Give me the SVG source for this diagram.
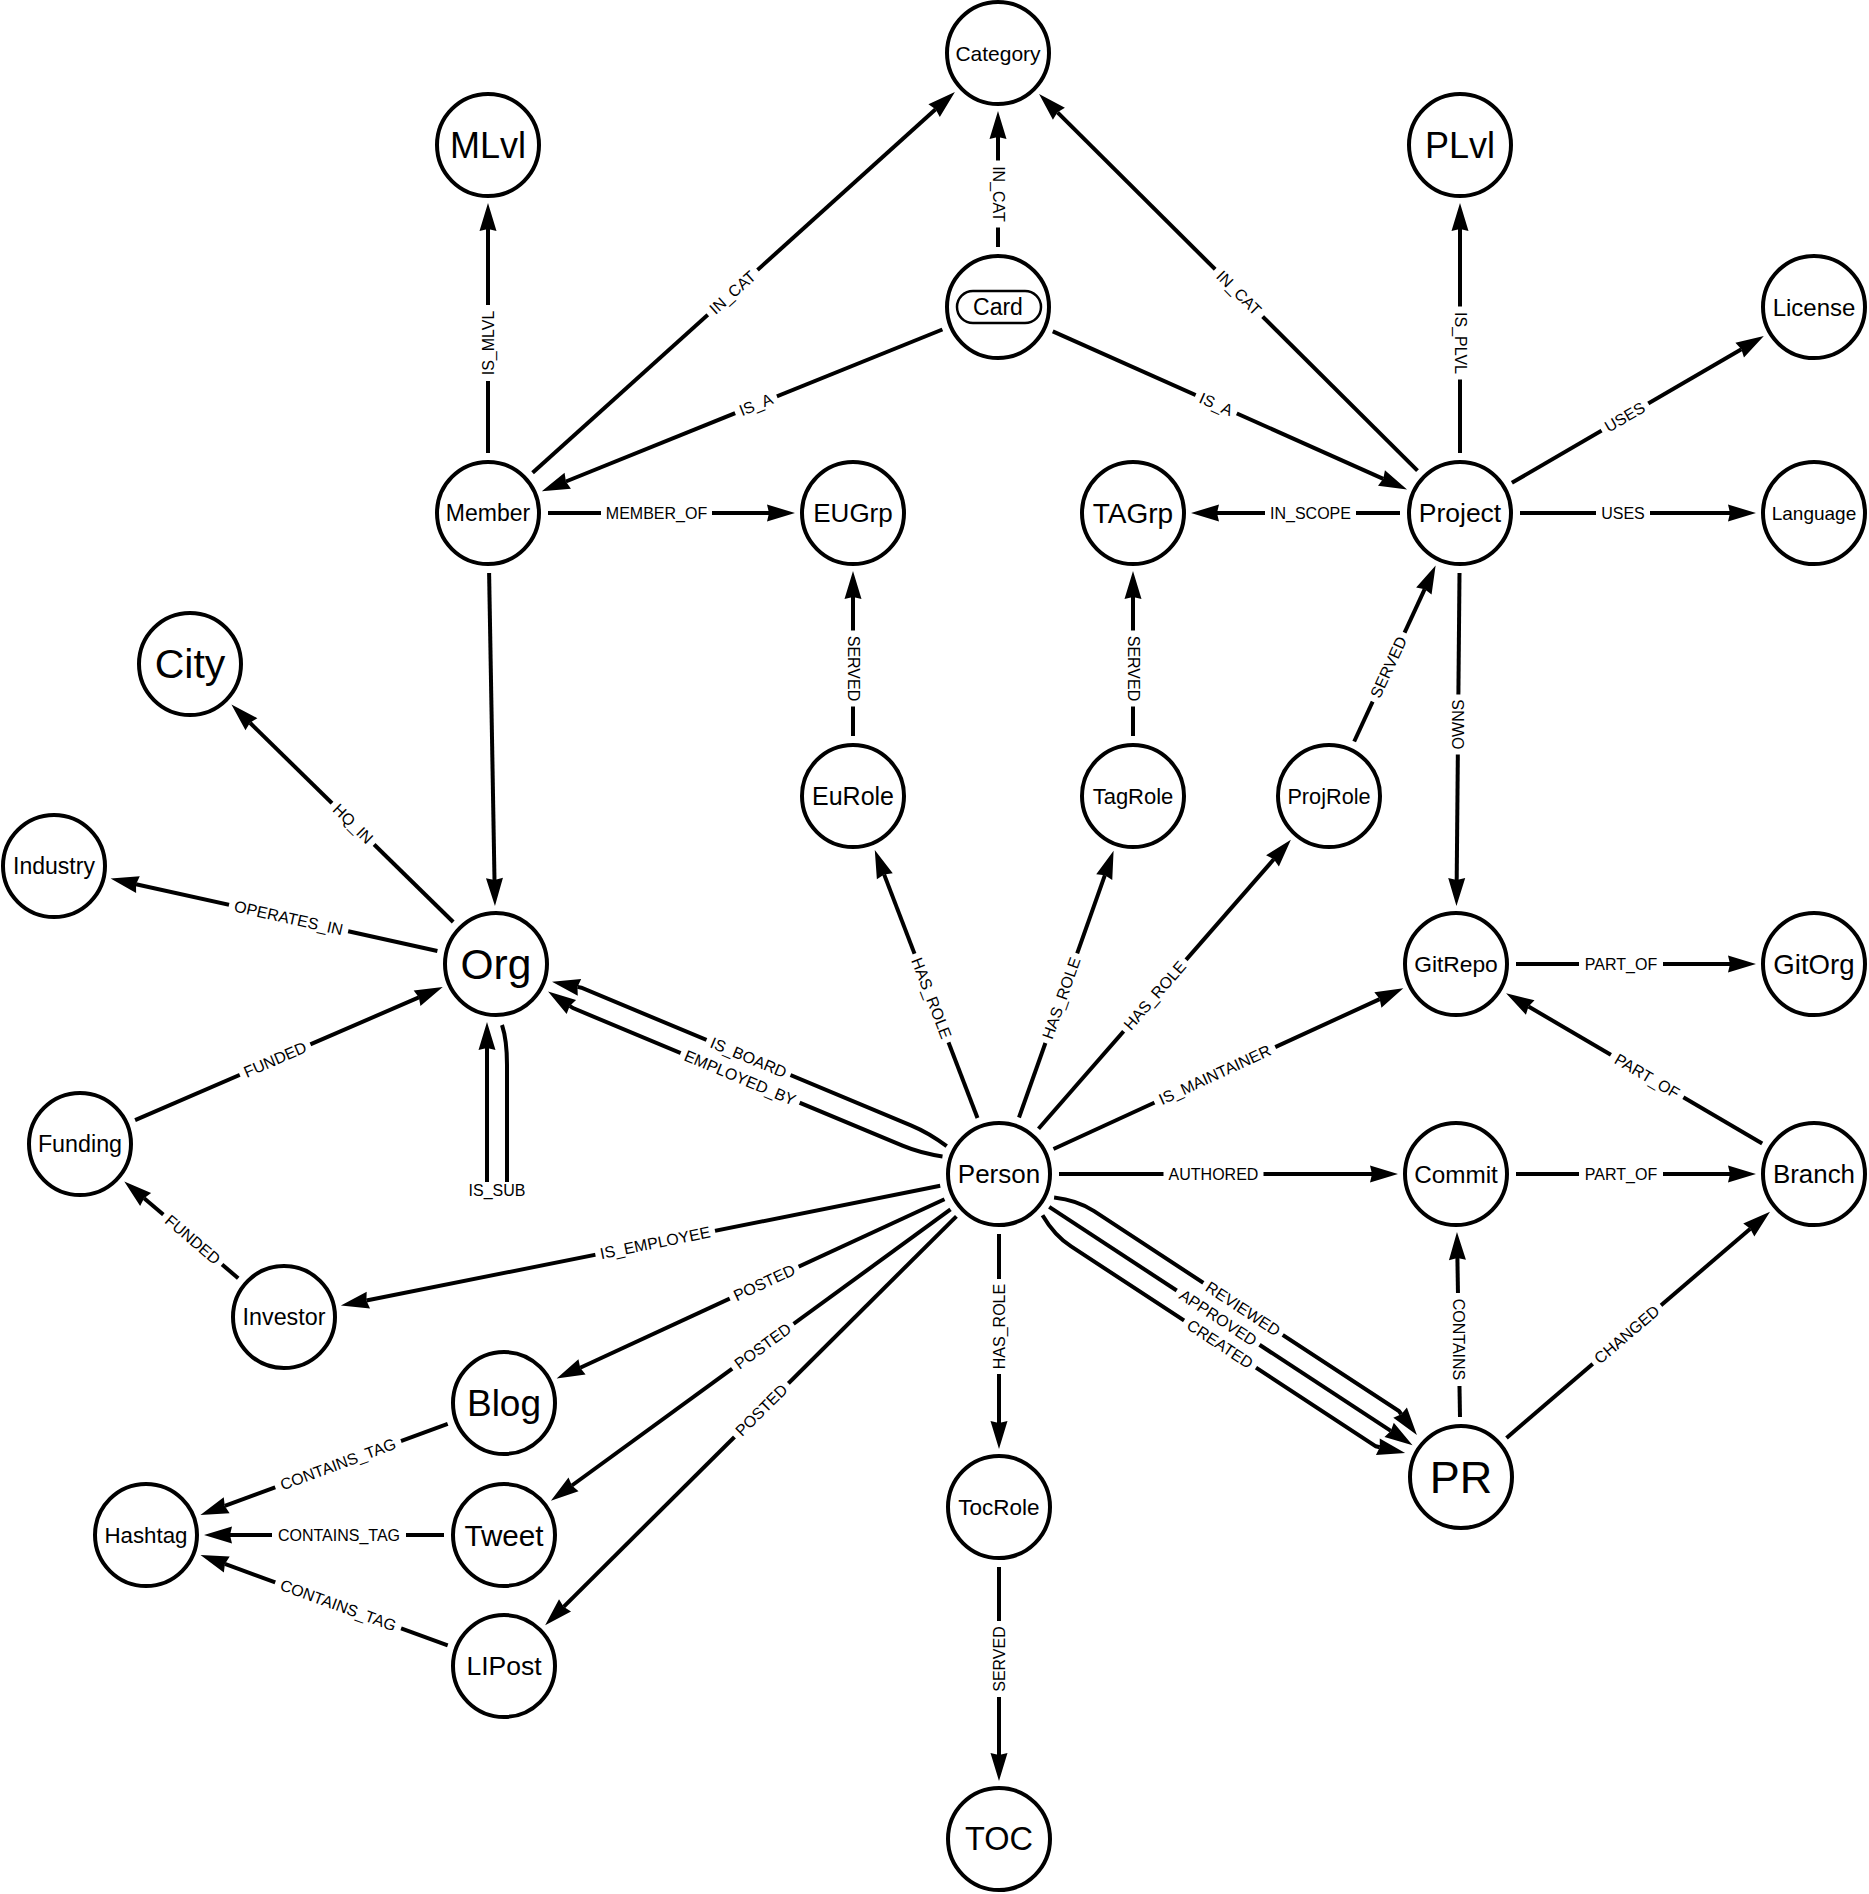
<svg xmlns="http://www.w3.org/2000/svg" width="1869" height="1894" viewBox="0 0 1869 1894">
<style>
text{font-family:'Liberation Sans',Arial,Helvetica,sans-serif;fill:#000;text-anchor:middle;dominant-baseline:central}
.node circle{fill:#fff;stroke:#000;stroke-width:4}
.e{fill:none;stroke:#000;stroke-width:4;marker-end:url(#arr)}
.lb rect{fill:#fff}
.lb text{font-size:16px}
</style>
<defs>
<marker id="arr" markerUnits="userSpaceOnUse" markerWidth="30" markerHeight="20" viewBox="0 -10 30 20" refX="2" refY="0" orient="auto" overflow="visible">
<path d="M0,-8.5 L28,0 L0,8.5 L2,0 Z" fill="#000"/>
</marker>
</defs>
<rect width="1869" height="1894" fill="#fff"/>
<g id="connectors">
<path class="e" d="M998,247 L998,137"/>
<path class="e" d="M532.6,472.8 L935.6,109.3"/>
<path class="e" d="M1417.5,470.7 L1057.5,112.3"/>
<path class="e" d="M488,453 L488,229"/>
<path class="e" d="M942.4,329.5 L565.9,481.5"/>
<path class="e" d="M1052.8,331.4 L1383.3,478.8"/>
<path class="e" d="M1460,453 L1460,229"/>
<path class="e" d="M1511.9,482.8 L1741.4,349.2"/>
<path class="e" d="M1520,513 L1730,513"/>
<path class="e" d="M548,513 L769,513"/>
<path class="e" d="M1400,513 L1217,513"/>
<path class="e" d="M853,736 L853,597"/>
<path class="e" d="M1133,736 L1133,597"/>
<path class="e" d="M1354.2,741.5 L1424.7,589.2"/>
<path class="e" d="M1459.5,573 L1456.7,880"/>
<path class="e" d="M489.1,573 L494.5,880"/>
<path class="e" d="M453.2,922 L250,722.8"/>
<path class="e" d="M437.4,951 L136,884.2"/>
<path class="e" d="M135.1,1120.2 L418.9,997.4"/>
<path class="e" d="M238.2,1278.2 L144.1,1198.3"/>
<path class="e" d="M502,1025 Q507,1040 507,1065 L507,1182 Q507,1192 497,1192 Q487,1192 487,1182 L487,1048"/>
<path class="e" d="M946.7,1146.2 Q929.4,1133 910.9,1125.3 L581.4,987.7 L577.5,986.9"/>
<path class="e" d="M942.5,1156.4 Q921,1153.4 902.5,1145.7 L573,1008.1 L569.7,1005.9"/>
<path class="e" d="M977.5,1118 L884.1,874.4"/>
<path class="e" d="M1019,1117.5 L1104.9,875.2"/>
<path class="e" d="M1038.5,1128.8 L1273.8,859.3"/>
<path class="e" d="M1053.5,1149 L1379.7,999.1"/>
<path class="e" d="M1059,1174 L1372,1174"/>
<path class="e" d="M1516,964 L1730,964"/>
<path class="e" d="M1516,1174 L1730,1174"/>
<path class="e" d="M1762.2,1143.6 L1528.5,1006.5"/>
<path class="e" d="M1460,1417 L1457.4,1258"/>
<path class="e" d="M1506.5,1437.9 L1750.3,1228.7"/>
<path class="e" d="M1054.1,1197.6 Q1077.4,1200.3 1094.1,1211.2 L1398.9,1411.1 L1401.3,1414.3"/>
<path class="e" d="M1049.2,1206.9 L1390.8,1430.9"/>
<path class="e" d="M1042.5,1215.2 Q1054.4,1235.5 1071.1,1246.4 L1375.9,1446.3 L1379.8,1447.2"/>
<path class="e" d="M940.2,1185.8 L366.4,1300.5"/>
<path class="e" d="M944.5,1199.2 L580.2,1367.7"/>
<path class="e" d="M950.5,1209.4 L571.9,1485.5"/>
<path class="e" d="M956.4,1216.3 L563.6,1606.8"/>
<path class="e" d="M447.7,1423.8 L224.8,1505.9"/>
<path class="e" d="M444,1535 L230,1535"/>
<path class="e" d="M447.7,1645.4 L224.9,1563.9"/>
<path class="e" d="M999,1234 L999,1423"/>
<path class="e" d="M999,1567 L999,1755"/>
<g class="lb" transform="translate(998,194) rotate(90)"><rect x="-33.5" y="-8" width="67" height="16"/><text>IN_CAT</text></g>
<g class="lb" transform="translate(732.6,292.4) rotate(-42)"><rect x="-33.5" y="-8" width="67" height="16"/><text>IN_CAT</text></g>
<g class="lb" transform="translate(1238.9,292.9) rotate(44.9)"><rect x="-33.5" y="-8" width="67" height="16"/><text>IN_CAT</text></g>
<g class="lb" transform="translate(488,343) rotate(-90)"><rect x="-38" y="-8" width="76" height="16"/><text>IS_MLVL</text></g>
<g class="lb" transform="translate(756,404.7) rotate(-22)"><rect x="-22.5" y="-8" width="45" height="16"/><text>IS_A</text></g>
<g class="lb" transform="translate(1216.2,404.3) rotate(24)"><rect x="-22.5" y="-8" width="45" height="16"/><text>IS_A</text></g>
<g class="lb" transform="translate(1460,343) rotate(90)"><rect x="-36.5" y="-8" width="73" height="16"/><text>IS_PLVL</text></g>
<g class="lb" transform="translate(1624.9,417) rotate(-30.2)"><rect x="-27" y="-8" width="54" height="16"/><text>USES</text></g>
<g class="lb" transform="translate(1623,513)"><rect x="-27" y="-8" width="54" height="16"/><text>USES</text></g>
<g class="lb" transform="translate(656.5,513)"><rect x="-55.5" y="-8" width="111" height="16"/><text>MEMBER_OF</text></g>
<g class="lb" transform="translate(1310.5,513)"><rect x="-45.5" y="-8" width="91" height="16"/><text>IN_SCOPE</text></g>
<g class="lb" transform="translate(853,668.5) rotate(90)"><rect x="-38" y="-8" width="76" height="16"/><text>SERVED</text></g>
<g class="lb" transform="translate(1133,668.5) rotate(90)"><rect x="-38" y="-8" width="76" height="16"/><text>SERVED</text></g>
<g class="lb" transform="translate(1388.6,667.2) rotate(-65.2)"><rect x="-38" y="-8" width="76" height="16"/><text>SERVED</text></g>
<g class="lb" transform="translate(1458.1,724.5) rotate(-90)"><rect x="-30" y="-8" width="60" height="16"/><text>OWNS</text></g>
<g class="lb" transform="translate(353,823.8) rotate(44.4)"><rect x="-29.5" y="-8" width="59" height="16"/><text>HQ_IN</text></g>
<g class="lb" transform="translate(288.6,918) rotate(12.5)"><rect x="-61" y="-8" width="122" height="16"/><text>OPERATES_IN</text></g>
<g class="lb" transform="translate(275.1,1059.6) rotate(-23.4)"><rect x="-38.5" y="-8" width="77" height="16"/><text>FUNDED</text></g>
<g class="lb" transform="translate(192.7,1239.6) rotate(40.3)"><rect x="-38.5" y="-8" width="77" height="16"/><text>FUNDED</text></g>
<g class="lb" transform="translate(497,1190)"><rect x="-33.5" y="-8" width="67" height="16"/><text>IS_SUB</text></g>
<g class="lb" transform="translate(748.5,1057.5) rotate(22.7)"><rect x="-45.5" y="-8" width="91" height="16"/><text>IS_BOARD</text></g>
<g class="lb" transform="translate(740.1,1077.9) rotate(22.7)"><rect x="-64.5" y="-8" width="129" height="16"/><text>EMPLOYED_BY</text></g>
<g class="lb" transform="translate(931.5,998.1) rotate(69)"><rect x="-47.5" y="-8" width="95" height="16"/><text>HAS_ROLE</text></g>
<g class="lb" transform="translate(1061.3,998.2) rotate(-70.5)"><rect x="-47.5" y="-8" width="95" height="16"/><text>HAS_ROLE</text></g>
<g class="lb" transform="translate(1154.8,995.5) rotate(-48.9)"><rect x="-47.5" y="-8" width="95" height="16"/><text>HAS_ROLE</text></g>
<g class="lb" transform="translate(1214.8,1074.8) rotate(-24.7)"><rect x="-66.5" y="-8" width="133" height="16"/><text>IS_MAINTAINER</text></g>
<g class="lb" transform="translate(1213.5,1174)"><rect x="-50" y="-8" width="100" height="16"/><text>AUTHORED</text></g>
<g class="lb" transform="translate(1621,964)"><rect x="-42" y="-8" width="84" height="16"/><text>PART_OF</text></g>
<g class="lb" transform="translate(1621,1174)"><rect x="-42" y="-8" width="84" height="16"/><text>PART_OF</text></g>
<g class="lb" transform="translate(1647.1,1076.1) rotate(30.4)"><rect x="-42" y="-8" width="84" height="16"/><text>PART_OF</text></g>
<g class="lb" transform="translate(1458.7,1339.5) rotate(90)"><rect x="-46.5" y="-8" width="93" height="16"/><text>CONTAINS</text></g>
<g class="lb" transform="translate(1626.9,1334.6) rotate(-40.6)"><rect x="-45" y="-8" width="90" height="16"/><text>CHANGED</text></g>
<g class="lb" transform="translate(1243,1308.9) rotate(33.3)"><rect x="-47.5" y="-8" width="95" height="16"/><text>REVIEWED</text></g>
<g class="lb" transform="translate(1218.1,1317.7) rotate(33.3)"><rect x="-49.5" y="-8" width="99" height="16"/><text>APPROVED</text></g>
<g class="lb" transform="translate(1220,1344.1) rotate(33.3)"><rect x="-43" y="-8" width="86" height="16"/><text>CREATED</text></g>
<g class="lb" transform="translate(655.2,1242.8) rotate(-11.3)"><rect x="-61" y="-8" width="122" height="16"/><text>IS_EMPLOYEE</text></g>
<g class="lb" transform="translate(764.2,1282.6) rotate(-24.8)"><rect x="-38" y="-8" width="76" height="16"/><text>POSTED</text></g>
<g class="lb" transform="translate(762.8,1346.2) rotate(-36.1)"><rect x="-38" y="-8" width="76" height="16"/><text>POSTED</text></g>
<g class="lb" transform="translate(761.4,1410.2) rotate(-44.8)"><rect x="-38" y="-8" width="76" height="16"/><text>POSTED</text></g>
<g class="lb" transform="translate(338.1,1464.2) rotate(-20.2)"><rect x="-67" y="-8" width="134" height="16"/><text>CONTAINS_TAG</text></g>
<g class="lb" transform="translate(339,1535)"><rect x="-67" y="-8" width="134" height="16"/><text>CONTAINS_TAG</text></g>
<g class="lb" transform="translate(338.2,1605.3) rotate(20.1)"><rect x="-67" y="-8" width="134" height="16"/><text>CONTAINS_TAG</text></g>
<g class="lb" transform="translate(999,1326.5) rotate(-90)"><rect x="-47.5" y="-8" width="95" height="16"/><text>HAS_ROLE</text></g>
<g class="lb" transform="translate(999,1659) rotate(-90)"><rect x="-38" y="-8" width="76" height="16"/><text>SERVED</text></g>
</g>
<g id="n-Category" class="node"><circle cx="998" cy="53" r="51"/><text x="998" y="53" font-size="21">Category</text></g>
<g id="n-MLvl" class="node"><circle cx="488" cy="145" r="51"/><text x="488" y="145" font-size="36">MLvl</text></g>
<g id="n-PLvl" class="node"><circle cx="1460" cy="145" r="51"/><text x="1460" y="145" font-size="36">PLvl</text></g>
<g id="n-Card" class="node"><circle cx="998" cy="307" r="51"/><rect x="957" y="291" width="84" height="32" rx="16" fill="#fff" stroke="#000" stroke-width="2.5"/><text x="998" y="307" font-size="23">Card</text></g>
<g id="n-License" class="node"><circle cx="1814" cy="307" r="51"/><text x="1814" y="307" font-size="24">License</text></g>
<g id="n-Member" class="node"><circle cx="488" cy="513" r="51"/><text x="488" y="513" font-size="23">Member</text></g>
<g id="n-EUGrp" class="node"><circle cx="853" cy="513" r="51"/><text x="853" y="513" font-size="26">EUGrp</text></g>
<g id="n-TAGrp" class="node"><circle cx="1133" cy="513" r="51"/><text x="1133" y="513" font-size="28">TAGrp</text></g>
<g id="n-Project" class="node"><circle cx="1460" cy="513" r="51"/><text x="1460" y="513" font-size="26.5">Project</text></g>
<g id="n-Language" class="node"><circle cx="1814" cy="513" r="51"/><text x="1814" y="513" font-size="19">Language</text></g>
<g id="n-City" class="node"><circle cx="190" cy="664" r="51"/><text x="190" y="664" font-size="41">City</text></g>
<g id="n-EuRole" class="node"><circle cx="853" cy="796" r="51"/><text x="853" y="796" font-size="25">EuRole</text></g>
<g id="n-TagRole" class="node"><circle cx="1133" cy="796" r="51"/><text x="1133" y="796" font-size="22">TagRole</text></g>
<g id="n-ProjRole" class="node"><circle cx="1329" cy="796" r="51"/><text x="1329" y="796" font-size="21.7">ProjRole</text></g>
<g id="n-Industry" class="node"><circle cx="54" cy="866" r="51"/><text x="54" y="866" font-size="23">Industry</text></g>
<g id="n-Org" class="node"><circle cx="496" cy="964" r="51"/><text x="496" y="964" font-size="42.5">Org</text></g>
<g id="n-GitRepo" class="node"><circle cx="1456" cy="964" r="51"/><text x="1456" y="964" font-size="22.8">GitRepo</text></g>
<g id="n-GitOrg" class="node"><circle cx="1814" cy="964" r="51"/><text x="1814" y="964" font-size="27.6">GitOrg</text></g>
<g id="n-Funding" class="node"><circle cx="80" cy="1144" r="51"/><text x="80" y="1144" font-size="23.3">Funding</text></g>
<g id="n-Person" class="node"><circle cx="999" cy="1174" r="51"/><text x="999" y="1174" font-size="26">Person</text></g>
<g id="n-Commit" class="node"><circle cx="1456" cy="1174" r="51"/><text x="1456" y="1174" font-size="24.3">Commit</text></g>
<g id="n-Branch" class="node"><circle cx="1814" cy="1174" r="51"/><text x="1814" y="1174" font-size="25.9">Branch</text></g>
<g id="n-Investor" class="node"><circle cx="284" cy="1317" r="51"/><text x="284" y="1317" font-size="23.3">Investor</text></g>
<g id="n-Blog" class="node"><circle cx="504" cy="1403" r="51"/><text x="504" y="1403" font-size="37">Blog</text></g>
<g id="n-PR" class="node"><circle cx="1461" cy="1477" r="51"/><text x="1461" y="1477" font-size="45">PR</text></g>
<g id="n-TocRole" class="node"><circle cx="999" cy="1507" r="51"/><text x="999" y="1507" font-size="22.5">TocRole</text></g>
<g id="n-Hashtag" class="node"><circle cx="146" cy="1535" r="51"/><text x="146" y="1535" font-size="22.3">Hashtag</text></g>
<g id="n-Tweet" class="node"><circle cx="504" cy="1535" r="51"/><text x="504" y="1535" font-size="29.7">Tweet</text></g>
<g id="n-LIPost" class="node"><circle cx="504" cy="1666" r="51"/><text x="504" y="1666" font-size="26.5">LIPost</text></g>
<g id="n-TOC" class="node"><circle cx="999" cy="1839" r="51"/><text x="999" y="1839" font-size="32.5">TOC</text></g>
</svg>
